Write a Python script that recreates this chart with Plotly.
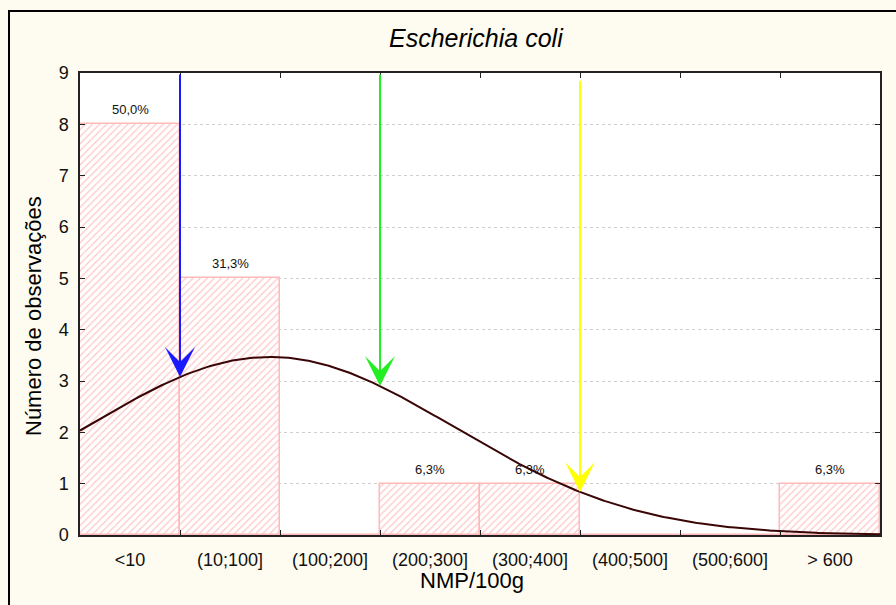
import numpy as np
import plotly.graph_objects as go

# NMP/100g classes and observation counts
categories = ["<10", "(10;100]", "(100;200]", "(200;300]",
              "(300;400]", "(400;500]", "(500;600]", "> 600"]
counts = [8, 5, 0, 1, 1, 0, 0, 1]
pct_labels = ["50,0%", "31,3%", "", "6,3%", "6,3%", "", "", "6,3%"]

# Fitted normal curve, in class-index units (0 = left edge of "<10")
n_obs = sum(counts)
fit_mean = 1.9
fit_sd = 1.84

# Limit markers: position on the class axis, starting height, colour
limit_pos = [1.0, 3.0, 5.0]
limit_top = [9.0, 9.0, 8.88]
limit_colors = ["#1a1aff", "#22ee22", "#ffff00"]

FONT = "Liberation Sans, Arial, sans-serif"
W, H = 896, 605
L, R, T, B = 80, 16, 73, 70
plot_w, plot_h = W - L - R, H - T - B


def px_x(p):
    return (p - L) / plot_w


def px_y(p):
    return (H - B - p) / plot_h


def normal_curve(x):
    return n_obs / (fit_sd * np.sqrt(2 * np.pi)) * np.exp(-0.5 * ((x - fit_mean) / fit_sd) ** 2)


centers = [i + 0.5 for i in range(len(categories))]

fig = go.Figure()

fig.add_trace(go.Bar(
    x=centers, y=counts, width=1.0,
    marker=dict(
        color="white",
        line=dict(color="rgb(255,185,185)", width=1.5),
        pattern=dict(shape="/", fgcolor="rgb(255,195,195)", bgcolor="white",
                     size=5, solidity=0.22, fillmode="replace"),
    ),
    hoverinfo="skip", showlegend=False,
))

xc = np.linspace(0, len(categories), 400)
fig.add_trace(go.Scatter(
    x=xc, y=normal_curve(xc), mode="lines",
    line=dict(color="#3a0505", width=2), hoverinfo="skip", showlegend=False,
))

annotations = []
for c, v, lab in zip(centers, counts, pct_labels):
    if lab:
        annotations.append(dict(
            x=c, y=v, xref="x", yref="y", text=lab, showarrow=False,
            yanchor="bottom", yshift=5,
            font=dict(family=FONT, size=13, color="#111"),
        ))

for pos, top, col in zip(limit_pos, limit_top, limit_colors):
    annotations.append(dict(
        x=pos, y=float(normal_curve(pos)), xref="x", yref="y",
        ax=pos, ay=top, axref="x", ayref="y",
        text="", showarrow=True, arrowhead=3, arrowsize=2.5,
        arrowwidth=2, arrowcolor=col, standoff=0,
    ))

annotations += [
    dict(x=px_x(476), y=px_y(38), xref="paper", yref="paper",
         text="<i>Escherichia coli</i>", showarrow=False,
         xanchor="center", yanchor="middle",
         font=dict(family=FONT, size=25, color="#000")),
    dict(x=px_x(472), y=px_y(580), xref="paper", yref="paper",
         text="NMP/100g", showarrow=False,
         xanchor="center", yanchor="middle",
         font=dict(family=FONT, size=22, color="#000")),
    dict(x=px_x(33), y=px_y(316), xref="paper", yref="paper",
         text="Número de observações", showarrow=False, textangle=-90,
         xanchor="center", yanchor="middle",
         font=dict(family=FONT, size=22, color="#000")),
]

fig.update_layout(
    width=W, height=H,
    margin=dict(l=L, r=R, t=T, b=B, pad=0),
    paper_bgcolor="#fefcf0", plot_bgcolor="white",
    bargap=0, annotations=annotations,
    shapes=[dict(type="rect", xref="paper", yref="paper",
                 x0=px_x(9), x1=px_x(W + 20), y0=px_y(H + 20), y1=px_y(11),
                 line=dict(color="black", width=2), layer="below")],
    xaxis=dict(
        range=[0, len(categories)], tickmode="array",
        tickvals=centers, ticktext=categories, ticks="",
        showline=True, linecolor="#222", linewidth=1.5, mirror="ticks",
        showgrid=False, zeroline=False,
        minor=dict(tickmode="array", tickvals=list(range(1, len(categories))),
                   ticks="inside", ticklen=5, tickcolor="#222", showgrid=False),
        tickfont=dict(family=FONT, size=18, color="#111"),
        ticklabelstandoff=8,
    ),
    yaxis=dict(
        range=[0, 9], tickmode="linear", tick0=0, dtick=1,
        ticks="inside", ticklen=5, tickcolor="#222",
        showline=True, linecolor="#222", linewidth=1.5, mirror="ticks",
        showgrid=True, gridcolor="#cfcfcf", griddash="dot", gridwidth=1,
        zeroline=False,
        tickfont=dict(family=FONT, size=18, color="#111"),
        ticklabelstandoff=6,
    ),
)

fig.write_html("out.html")
